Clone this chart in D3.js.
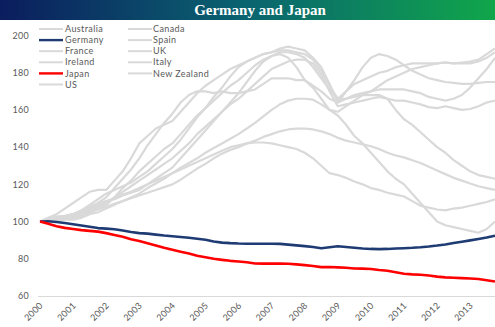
<!DOCTYPE html>
<html>
<head>
<meta charset="utf-8">
<script src="https://cdn.jsdelivr.net/npm/d3@7"></script>
<style>
  html, body { margin: 0; padding: 0; background: #fff; }
  svg { display: block; }
</style>
</head>
<body>
<div id="chart"></div>
<script>
// quarterly index, 2000 Q1 = 100
var years = ['2000','2001','2002','2003','2004','2005','2006','2007','2008','2009','2010','2011','2012','2013'];
var yTicks = [60, 80, 100, 120, 140, 160, 180, 200];

var australia = [100,101,102.5,103,104,106,108,110,113,118,123,128,134,141,147,153,158,164,168,170,170,169,170,169,169,170,171,174,177,177,177,176,176,173,170,166,164,170,176,183,188,190,189,187,184,181,179,177,176,175,174.5,174,174,174.5,175,175];
var uk = [100,102,104,107,110,113,116,117,117,122,127,134,142,146,150,152,154,159,164,169,173,176,179,182,184,186,188,190,191,193,194,193,192,188,183,174,164,166,168,169,170,171,171,171,171,170,169,167,166,165,166,168,172,177,182,188];
var newZealand = [100,100.5,101,101.5,102,103,105,107,109,113,118,122,127,131,135,139,142,147,152,157,161,167,172,178,183,186,188,190,191,192,192,191,190,187,181,173,166,170,174,176,178,180,181,183,184,185,185,185,185,185.5,185,185.5,186,187,190,193];
var france = [100,101,102,102.5,103,104.5,106,108,110,113,116,119,122,125,128,131,134,138,142,147,151,155,159,163,166,170,174,178,182,184,186,187,187,185,179,170,162,163,164,165,166,167,166,165,165,164,163,161.5,161,162,161,160,160.5,162,164,165];
var canada = [100,100.5,100.5,101,101,102,104,105,107,109,111,113,115,118,120.5,123,126,129,131.5,134,137,139.5,142,144.5,147,150,153,156.5,160,163,165,166,166,165.5,163,160,159,162,165,168,170,173,176,178,180,182,183,184,185,185.5,185,185,185,186,188,191];
var spain = [100,101,102.5,103,104,106,109,112,115,117,119,121,124,127,131,135,139,144,150,156,161,165,169,173,176,180,184,187,189,191,191,190,188,183,177,171,166,166,167,168,168,168,166,160,155,152,148,144,140,137,133,130,127,125,124,123];
var ireland = [100,100.5,101.5,102,103,105,107,109,111,112,114,115.5,117,120,123,126,129,134,139,144,149,154,159,164,169,175,181,186,189,190,188,183,176,172,166,160,157,152,146,142,137,132,127,123,120,115,110,105,100,98,97,96,95,94,96,100];
var italy = [100,100.5,101,101.5,102,103.5,105,106.5,108,109.5,111,112.5,114,115.5,117,118.5,120,122.5,125.5,128.5,131,134,136.5,138.5,140,142,143.5,145.5,147,148.5,149.5,150,150,149.5,148.5,147,145,143.5,142.5,141.5,140.5,139,137,135.5,134.5,133,131.5,129.5,127.5,125.5,123.5,122,120.5,119,118,117];
var us = [100,101.5,102.5,103,104,106,108,109.5,111,112.5,114.5,116,118,120,122,124,126,128,130,132,134,136,138,140,141,142,142.5,142.5,142,141,140,139,137,134,130,126,125,123.5,121.5,120,118,117,115.5,114.5,113.5,111,108.5,107.5,106.5,106,107,107.5,108.5,109.5,110.5,112];
var germany = [100,100.2,99.8,99.2,98.6,97.9,97.2,96.5,96.2,95.9,95.2,94.4,93.8,93.5,93.0,92.5,92.1,91.7,91.3,90.8,90.2,89.3,88.7,88.4,88.2,88.1,88.1,88.1,88.1,88.0,87.6,87.2,86.8,86.3,85.7,86.2,86.7,86.3,85.9,85.5,85.3,85.2,85.3,85.5,85.7,85.9,86.2,86.6,87.1,87.7,88.5,89.2,89.9,90.6,91.4,92.4];
var japan = [100,98.8,97.5,96.6,96.0,95.4,95.0,94.6,93.8,92.8,91.8,90.5,89.6,88.4,87.2,85.9,84.8,83.8,82.8,81.6,80.8,80.0,79.4,78.9,78.5,78.1,77.5,77.4,77.4,77.4,77.3,77.0,76.6,76.1,75.5,75.6,75.4,75.2,74.8,74.7,74.5,74.0,73.6,72.8,72.0,71.6,71.4,71.0,70.4,70.0,69.8,69.6,69.4,69.1,68.5,67.8];

var legendLeft = ['Australia','Germany','France','Ireland','Japan','US'];
var legendRight = ['Canada','Spain','UK','Italy','New Zealand'];

var grey = '#d9d9d9', navy = '#1f3b74', red = '#ff0000';
var colorOf = {Germany: navy, Japan: red};
var font = 'Lato, "Open Sans", sans-serif';

var series = [
  {name:'Australia', values: australia},
  {name:'Canada', values: canada},
  {name:'France', values: france},
  {name:'Spain', values: spain},
  {name:'Ireland', values: ireland},
  {name:'UK', values: uk},
  {name:'Italy', values: italy},
  {name:'New Zealand', values: newZealand},
  {name:'US', values: us},
  {name:'Germany', values: germany},
  {name:'Japan', values: japan}
];

var width = 495, height = 327;
var svg = d3.select('#chart').append('svg')
  .attr('width', width).attr('height', height);

// title banner
var defs = svg.append('defs');
var grad = defs.append('linearGradient').attr('id','band').attr('x1','0%').attr('x2','100%');
grad.append('stop').attr('offset','0%').attr('stop-color','#0b1d5e');
grad.append('stop').attr('offset','50%').attr('stop-color','#0a6470');
grad.append('stop').attr('offset','100%').attr('stop-color','#10a64a');
svg.append('rect').attr('x',0).attr('y',0).attr('width',width).attr('height',20).attr('fill','url(#band)');
svg.append('text')
  .attr('x', 260).attr('y', 15)
  .attr('text-anchor','middle')
  .attr('font-family','"Liberation Serif", "DejaVu Serif", serif')
  .attr('font-weight','bold')
  .attr('font-size', 15)
  .attr('fill','#fff')
  .text('Germany and Japan');

var x = d3.scaleLinear().domain([0, japan.length - 1]).range([40, 495]);
var y = d3.scaleLinear().domain([60, 200]).range([296, 35.5]);

// y labels
svg.append('g').selectAll('text').data(yTicks).enter().append('text')
  .attr('x', 29).attr('y', function(d){ return y(d); })
  .attr('dy','0.35em')
  .attr('text-anchor','end')
  .attr('font-family', font)
  .attr('font-size', 9)
  .attr('letter-spacing', 0.3)
  .attr('fill','#595959')
  .text(function(d){ return d; });

// x axis
var xAxis = d3.axisBottom(x)
  .tickValues(years.map(function(d,i){ return i*4; }))
  .tickSize(0)
  .tickFormat(function(d){ return years[d/4]; });
var gx = svg.append('g').attr('transform','translate(0,296)').call(xAxis);
gx.select('.domain').attr('stroke','#d9d9d9').attr('d','M38,0.5H495');
gx.selectAll('text')
  .attr('font-family', font)
  .attr('font-size', 9)
  .attr('letter-spacing', 0.3)
  .attr('fill','#595959')
  .attr('text-anchor','end')
  .attr('dy', null)
  .attr('y', 0)
  .attr('transform','translate(3,10) rotate(-45)');

// lines
var line = d3.line()
  .x(function(d,i){ return x(i); })
  .y(function(d){ return y(d); });

svg.append('g').selectAll('path').data(series).enter().append('path')
  .attr('d', function(d){ return line(d.values); })
  .attr('fill','none')
  .attr('stroke', function(d){ return colorOf[d.name] || grey; })
  .attr('stroke-width', function(d){ return colorOf[d.name] ? 2.6 : 2.2; })
  .attr('stroke-linejoin','round');

// legend
function legendCol(names, lx, tx) {
  var g = svg.append('g');
  names.forEach(function(n, i){
    var yy = 29 + i*11.1;
    g.append('line').attr('x1',lx).attr('x2',lx+24).attr('y1',yy).attr('y2',yy)
      .attr('stroke', colorOf[n] || grey).attr('stroke-width', colorOf[n] ? 2.4 : 2);
    g.append('text').attr('x',tx).attr('y',yy).attr('dy','0.35em')
      .attr('font-family', font)
      .attr('font-size', 9)
      .attr('letter-spacing', 0.4)
      .attr('fill','#595959')
      .text(n);
  });
}
legendCol(legendLeft, 39, 65);
legendCol(legendRight, 128, 153);
</script>
</body>
</html>
